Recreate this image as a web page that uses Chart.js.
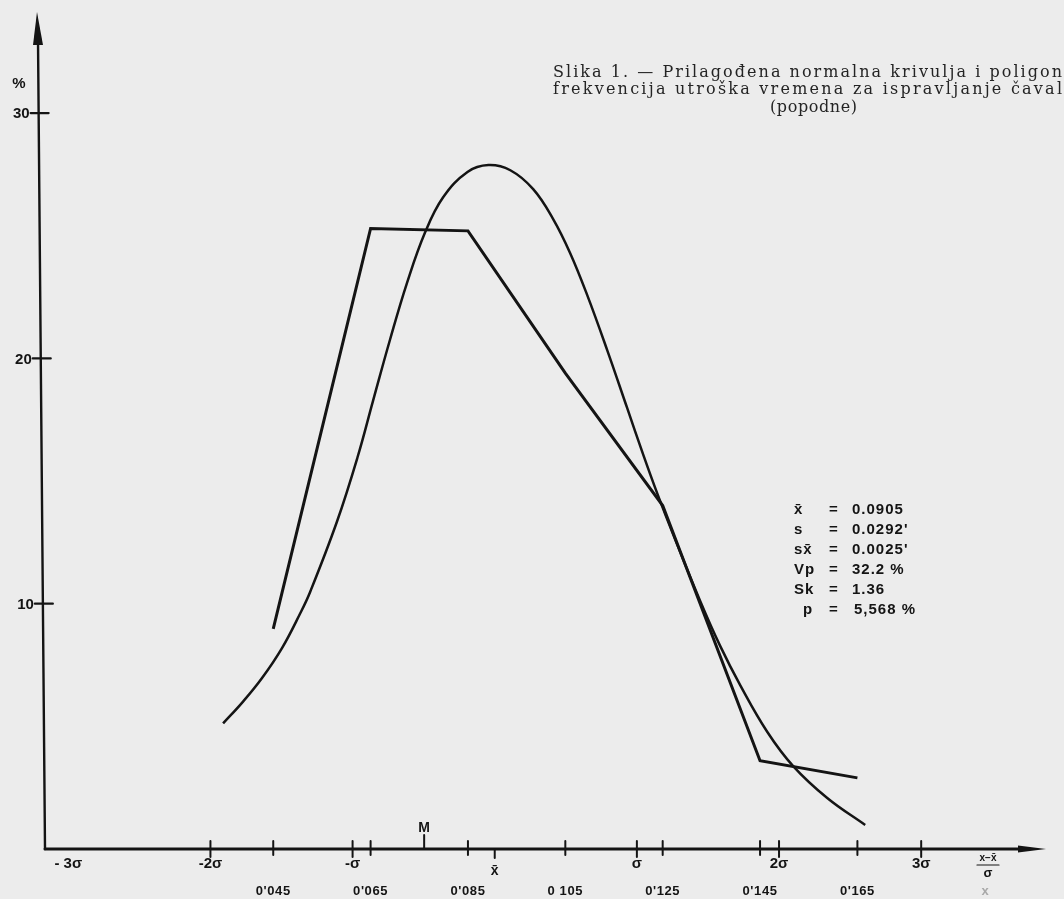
<!DOCTYPE html>
<html>
<head>
<meta charset="utf-8">
<script src="https://cdn.jsdelivr.net/npm/chart.js@4.4.1/dist/chart.umd.min.js"></script>
<style>
    html, body { margin: 0; padding: 0; background: #ececec; }
    #okvir { width: 1064px; height: 899px; position: relative; }
</style>
</head>
<body>
<div id="okvir"><canvas id="grafikon"></canvas></div>
<script>
    "use strict";

    // Razredne sredine i poligon frekvencija (%)
    const razredi = [0.045, 0.065, 0.085, 0.105, 0.125, 0.145, 0.165];
    const poligon = [8.97, 25.3, 25.2, 19.4, 14.0, 3.6, 2.9];
    const razrediOznake = ["0'045", "0'065", "0'085", "0 105", "0'125", "0'145", "0'165"];

    // Prilagođena normalna krivulja - točke očitane s crteža
    const krivuljaX = [0.0347, 0.0388, 0.0427, 0.0468, 0.0505, 0.0526, 0.0581, 0.0623, 0.0655, 0.0690,
                       0.0725, 0.0762, 0.0799, 0.0849, 0.0892, 0.0937, 0.0984, 0.1025, 0.1060, 0.1095,
                       0.1136, 0.1177, 0.1210, 0.1239, 0.1272, 0.1327, 0.1368, 0.1410, 0.1465, 0.1518,
                       0.1588, 0.1666];
    const krivuljaY = [5.12, 6.01, 6.97, 8.19, 9.59, 10.49, 13.35, 15.96, 18.27, 20.77,
                       23.09, 25.14, 26.57, 27.6, 27.88, 27.67, 26.9, 25.68, 24.29, 22.58,
                       20.34, 17.98, 16.08, 14.49, 12.8, 10.11, 8.28, 6.65, 4.77, 3.38,
                       2.08, 0.98];

    // Oznake na osi x (sigma) i y
    const sigmaVrijednosti = [0.0029, 0.0321, 0.0613, 0.1197, 0.1489, 0.1781];
    const sigmaOznake = ['- 3σ', '-2σ', '-σ', 'σ', '2σ', '3σ'];
    const prosjek = 0.0905;
    const medijan = 0.076;
    const yVrijednosti = [10, 20, 30];

    // Statistički pokazatelji
    const statOznake = ['x̄', 's', 'sx̄', 'Vp', 'Sk', 'p'];
    const statVrijednosti = ["0.0905", "0.0292'", "0.0025'", "32.2 %", "1.36", "5,568 %"];

    const naslov = [
        'Slika 1. — Prilagođena normalna krivulja i poligon',
        'frekvencija utroška vremena za ispravljanje čaval',
        '(popodne)'
    ];

    const crno = '#141414';
    const rukopis = 'bold 15px "Liberation Sans", Arial, sans-serif';

    // Razmaknuta slova, redak ispunjava zadanu širinu
    function razmaknuto(ctx, tekst, lijevo, desno, y) {
        const znakovi = Array.from(tekst);
        const w0 = znakovi.reduce((s, z) => s + ctx.measureText(z).width, 0);
        const ls = (desno - lijevo - w0) / (znakovi.length - 1);
        let x = lijevo;
        znakovi.forEach(z => {
            ctx.fillText(z, x, y);
            x += ctx.measureText(z).width + ls;
        });
    }

    // Crtanje osi, strelica, oznaka i teksta
    const osiPlugin = {
        id: 'osi',
        afterDraw(chart) {
            const ctx = chart.ctx;
            const xs = chart.scales.x, ys = chart.scales.y;
            const dno = ys.bottom;
            const vrh = ys.top;
            // os y je malo nagnuta kao na crtežu
            const osY = py => (xs.left - 4) + (py - (vrh + 25)) / (dno - (vrh + 25)) * 7;

            ctx.save();
            ctx.strokeStyle = crno;
            ctx.fillStyle = crno;
            ctx.lineCap = 'round';

            // os y
            ctx.lineWidth = 2.4;
            ctx.beginPath();
            ctx.moveTo(osY(dno), dno);
            ctx.lineTo(osY(vrh + 25), vrh + 25);
            ctx.stroke();
            ctx.beginPath();
            ctx.moveTo(xs.left - 5, vrh - 3);
            ctx.lineTo(xs.left - 9, vrh + 30);
            ctx.lineTo(xs.left + 1, vrh + 30);
            ctx.closePath();
            ctx.fill();

            // os x
            ctx.lineWidth = 3;
            ctx.beginPath();
            ctx.moveTo(osY(dno), dno);
            ctx.lineTo(1024, dno);
            ctx.stroke();
            ctx.beginPath();
            ctx.moveTo(1046, dno);
            ctx.lineTo(1018, dno - 3.5);
            ctx.lineTo(1018, dno + 3.5);
            ctx.closePath();
            ctx.fill();

            // crtice i brojevi na osi y
            ctx.lineWidth = 2.2;
            ctx.font = rukopis;
            ctx.textAlign = 'right';
            ctx.textBaseline = 'middle';
            yVrijednosti.forEach(v => {
                const py = ys.getPixelForValue(v);
                const px = osY(py);
                ctx.beginPath();
                ctx.moveTo(px - 8, py);
                ctx.lineTo(px + 10, py);
                ctx.stroke();
                ctx.fillText(String(v), px - 9, py + 1);
            });
            ctx.textAlign = 'center';
            ctx.fillText('%', 19, 84);

            // crtice na osi x
            ctx.lineWidth = 2;
            razredi.forEach(v => {
                const px = xs.getPixelForValue(v);
                ctx.beginPath();
                ctx.moveTo(px, dno - 8);
                ctx.lineTo(px, dno + 6);
                ctx.stroke();
            });
            sigmaVrijednosti.slice(1).forEach(v => {
                const px = xs.getPixelForValue(v);
                ctx.beginPath();
                ctx.moveTo(px, dno - 8);
                ctx.lineTo(px, dno + 8);
                ctx.stroke();
            });
            const pxM = xs.getPixelForValue(medijan);
            ctx.beginPath();
            ctx.moveTo(pxM, dno - 14);
            ctx.lineTo(pxM, dno);
            ctx.stroke();
            const pxS = xs.getPixelForValue(prosjek);
            ctx.beginPath();
            ctx.moveTo(pxS, dno);
            ctx.lineTo(pxS, dno + 9);
            ctx.stroke();

            // oznake na osi x
            ctx.font = 'bold 14px "Liberation Sans", Arial, sans-serif';
            ctx.fillText('M', pxM, dno - 21);
            ctx.font = 'bold 15px "Liberation Sans", Arial, sans-serif';
            sigmaVrijednosti.forEach((v, i) => {
                ctx.fillText(sigmaOznake[i], xs.getPixelForValue(v), dno + 15);
            });
            ctx.font = 'bold 14px "Liberation Sans", Arial, sans-serif';
            ctx.fillText('x̄', pxS, dno + 22);

            ctx.font = 'bold 13px "Liberation Sans", Arial, sans-serif';
            ctx.letterSpacing = '0.6px';
            razredi.forEach((v, i) => {
                ctx.fillText(razrediOznake[i], xs.getPixelForValue(v), dno + 42);
            });
            ctx.letterSpacing = '0px';

            // (x - x̄) / σ
            ctx.font = 'bold 10px "Liberation Sans", Arial, sans-serif';
            ctx.fillText('x−x̄', 988, dno + 9);
            ctx.lineWidth = 1.2;
            ctx.beginPath();
            ctx.moveTo(977, dno + 16);
            ctx.lineTo(999, dno + 16);
            ctx.stroke();
            ctx.font = 'bold 13px "Liberation Sans", Arial, sans-serif';
            ctx.fillText('σ', 988, dno + 24);
            ctx.fillStyle = '#a8a8a8';
            ctx.fillText('x', 985, dno + 42);

            // statistički pokazatelji
            ctx.fillStyle = crno;
            ctx.font = 'bold 15px "Liberation Sans", Arial, sans-serif';
            ctx.letterSpacing = '1px';
            statOznake.forEach((o, i) => {
                const py = 510 + i * 20;
                ctx.textAlign = 'left';
                ctx.fillText(o, i === 5 ? 803 : 794, py);
                ctx.textAlign = 'center';
                ctx.fillText('=', 834, py);
                ctx.textAlign = 'left';
                ctx.fillText(statVrijednosti[i], i === 5 ? 854 : 852, py);
            });
            ctx.letterSpacing = '0px';

            // naslov
            ctx.fillStyle = '#242424';
            ctx.font = '16px "DejaVu Serif", "Liberation Serif", serif';
            ctx.textAlign = 'left';
            ctx.textBaseline = 'alphabetic';
            razmaknuto(ctx, naslov[0], 553, 1062, 77);
            razmaknuto(ctx, naslov[1], 553, 1062, 94);
            razmaknuto(ctx, naslov[2], 770, 857, 112);

            ctx.restore();
        }
    };

    const ctx = document.getElementById('grafikon').getContext('2d');
    const grafikon = new Chart(ctx, {
        type: 'line',
        data: {
            datasets: [{
                label: 'Poligon frekvencija',
                data: razredi.map((x, i) => ({ x: x, y: poligon[i] })),
                borderColor: crno,
                borderWidth: 3,
                pointRadius: 0,
                tension: 0,
                fill: false
            }, {
                label: 'Normalna krivulja',
                data: krivuljaX.map((x, i) => ({ x: x, y: krivuljaY[i] })),
                borderColor: crno,
                borderWidth: 2.5,
                pointRadius: 0,
                tension: 0.4,
                fill: false
            }]
        },
        options: {
            responsive: true,
            maintainAspectRatio: false,
            animation: false,
            layout: { padding: { left: 42, right: 7, top: 15, bottom: 50 } },
            plugins: {
                legend: { display: false },
                tooltip: { enabled: false }
            },
            scales: {
                x: { type: 'linear', min: -0.0025, max: 0.206, display: false },
                y: { type: 'linear', min: 0, max: 34, display: false }
            }
        },
        plugins: [osiPlugin]
    });
</script>
</body>
</html>
